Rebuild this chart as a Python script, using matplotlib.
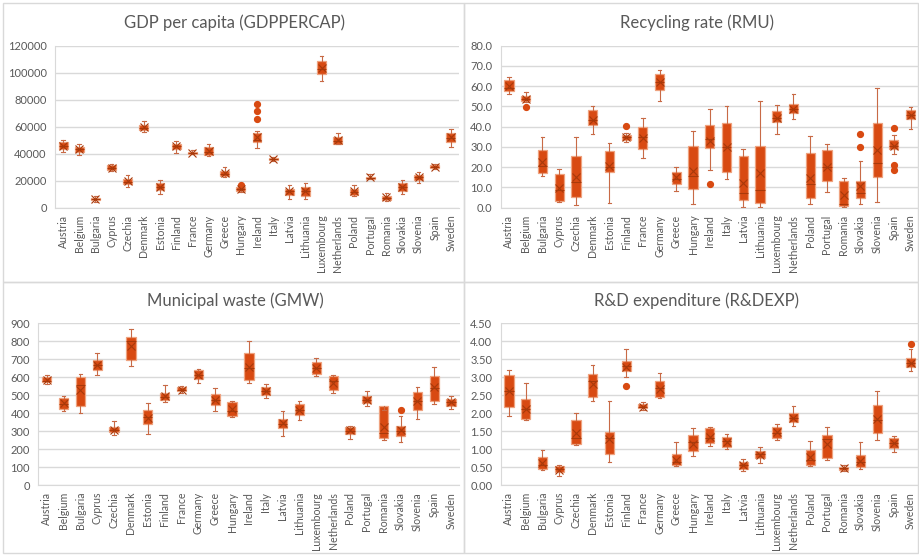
import matplotlib
matplotlib.use("Agg")
import matplotlib.pyplot as plt
from matplotlib.patches import Rectangle

plt.rcParams['font.family'] = ['Lato', 'DejaVu Sans']

countries = ["Austria", "Belgium", "Bulgaria", "Cyprus", "Czechia", "Denmark", "Estonia",
             "Finland", "France", "Germany", "Greece", "Hungary", "Ireland", "Italy", "Latvia",
             "Lithuania", "Luxembourg", "Netherlands", "Poland", "Portugal", "Romania",
             "Slovakia", "Slovenia", "Spain", "Sweden"]

# ---- GDP per capita (GDPPERCAP) ----
gdp_lo = [41500, 39000, 4500, 27000, 15000, 56000, 10000, 40500, 39500, 38500, 23000, 11500, 44000,
          34500, 6500, 6500, 93500, 47000, 8500, 21000, 5000, 10500, 18500, 28500, 45000]
gdp_q1 = [43500, 41500, 5500, 28000, 17500, 57500, 13000, 43500, 40000, 39000, 23500, 12500, 48500,
          35000, 9500, 9000, 99000, 47500, 9500, 21500, 6000, 12500, 20500, 29500, 48500]
gdp_med = [46000, 43500, 6500, 29500, 19000, 59000, 15500, 45500, 40500, 41000, 25000, 13500, 50000,
           36000, 12000, 12000, 103000, 49500, 11500, 22000, 7500, 15000, 22500, 30500, 51500]
gdp_q3 = [48500, 45000, 7500, 31500, 21000, 61000, 18000, 47500, 41500, 45000, 27500, 15000, 55000,
          37000, 14000, 15000, 108500, 52000, 13500, 23000, 9000, 18500, 24500, 31500, 55000]
gdp_hi = [50000, 47000, 8500, 32500, 24000, 64000, 20500, 49500, 43000, 47500, 30000, 15500, 56500,
          37500, 16500, 18000, 112000, 55000, 16500, 25000, 11000, 20500, 26500, 32000, 58000]
gdp_mean = [46000, 43500, 6500, 29500, 19500, 59500, 15500, 45500, 40500, 42000, 25500, 14000, 52500,
            36000, 12000, 12500, 103500, 50000, 12000, 22500, 8000, 15500, 22500, 30500, 52000]
gdp_out = {"Hungary": [16500], "Ireland": [65500, 71500, 76500]}

# ---- Recycling rate (RMU) ----
rmu_lo = [56.3, 52.0, 15.6, 2.8, 1.2, 36.2, 2.3, 32.5, 24.5, 52.5, 8.4, 1.8, 18.4, 14.3, 0.5, 0.5,
          36.2, 43.8, 2.0, 7.6, 0.5, 1.8, 2.6, 26.5, 38.8]
rmu_q1 = [57.8, 52.8, 17.1, 3.1, 5.4, 40.7, 17.4, 33.4, 29.0, 58.0, 11.5, 9.4, 29.5, 17.8, 3.8, 2.1,
          42.5, 46.9, 4.8, 13.2, 1.0, 4.9, 15.3, 28.8, 43.8]
rmu_med = [59.0, 53.5, 20.7, 8.5, 12.5, 43.5, 20.0, 35.0, 35.0, 62.0, 14.0, 15.5, 34.0, 30.0, 7.5, 8.5,
           44.5, 48.5, 11.5, 20.0, 2.0, 7.5, 22.0, 30.5, 46.0]
rmu_q3 = [63.0, 55.1, 28.6, 16.5, 25.5, 48.4, 28.1, 36.0, 40.0, 66.0, 17.8, 30.6, 40.8, 41.6, 25.3, 30.6,
          47.7, 51.0, 26.8, 28.6, 13.3, 13.3, 41.8, 33.4, 48.1]
rmu_hi = [64.5, 57.0, 34.9, 19.1, 34.9, 50.2, 31.8, 37.0, 44.4, 68.0, 20.2, 37.9, 48.7, 50.2, 29.0, 52.8,
          50.5, 56.1, 35.2, 31.4, 14.8, 23.2, 59.1, 36.0, 49.7]
rmu_mean = [60.0, 53.5, 22.4, 9.5, 15.0, 43.5, 20.5, 35.0, 34.5, 62.0, 15.0, 18.0, 33.0, 30.0, 12.0, 17.0,
            44.5, 48.5, 14.5, 20.0, 6.5, 10.5, 28.5, 30.5, 46.0]
rmu_out = {"Belgium": [49.9], "Finland": [40.5], "Ireland": [11.5], "Slovakia": [36.5, 30.0],
           "Spain": [39.5, 21.3, 18.4]}

# ---- Municipal waste (GMW) ----
gmw_lo = [561, 409, 402, 613, 276, 659, 283, 461, 511, 565, 413, 380, 565, 483, 272, 363, 607, 509, 257,
          441, 250, 241, 365, 450, 424]
gmw_q1 = [570, 424, 437, 639, 294, 696, 339, 470, 520, 589, 443, 383, 585, 502, 319, 391, 619, 528, 285,
          454, 261, 274, 417, 467, 441]
gmw_med = [580, 450, 555, 665, 305, 800, 380, 490, 528, 610, 470, 410, 650, 520, 340, 415, 650, 580, 300,
           470, 290, 300, 465, 540, 460]
gmw_q3 = [602, 483, 602, 694, 324, 824, 418, 511, 543, 641, 504, 461, 733, 546, 369, 450, 683, 604, 324,
          496, 439, 326, 517, 604, 480]
gmw_hi = [613, 494, 615, 735, 354, 867, 454, 556, 548, 644, 537, 468, 802, 559, 413, 467, 704, 609, 330,
          524, 415, 383, 546, 656, 496]
gmw_mean = [583, 455, 530, 665, 308, 770, 375, 492, 528, 610, 470, 422, 655, 520, 342, 418, 652, 568, 303,
            472, 325, 307, 468, 542, 460]
gmw_out = {"Slovakia": [415]}

# ---- R&D expenditure (R&DEXP) ----
rd_lo = [1.91, 1.80, 0.42, 0.24, 1.11, 2.34, 0.63, 3.00, 2.07, 2.42, 0.52, 0.81, 1.08, 1.01, 0.38, 0.60,
         1.25, 1.63, 0.54, 0.69, 0.38, 0.45, 1.26, 0.91, 3.16]
rd_q1 = [2.18, 1.83, 0.44, 0.35, 1.15, 2.45, 0.87, 3.18, 2.13, 2.44, 0.55, 0.94, 1.16, 1.05, 0.44, 0.75,
         1.30, 1.74, 0.55, 0.75, 0.41, 0.50, 1.44, 1.03, 3.27]
rd_med = [2.60, 2.10, 0.55, 0.44, 1.30, 2.90, 1.30, 3.30, 2.18, 2.70, 0.65, 1.20, 1.30, 1.22, 0.55, 0.85,
          1.45, 1.85, 0.70, 1.27, 0.47, 0.63, 1.80, 1.17, 3.40]
rd_q3 = [3.06, 2.40, 0.77, 0.52, 1.81, 3.08, 1.48, 3.44, 2.25, 2.89, 0.86, 1.38, 1.58, 1.34, 0.65, 0.94,
         1.62, 2.00, 0.96, 1.40, 0.51, 0.83, 2.21, 1.31, 3.53]
rd_hi = [3.19, 2.83, 0.98, 0.56, 2.00, 3.32, 2.32, 3.78, 2.30, 3.11, 1.19, 1.57, 1.62, 1.42, 0.71, 1.06,
         1.69, 2.19, 1.23, 1.60, 0.56, 1.19, 2.60, 1.37, 3.78]
rd_mean = [2.60, 2.12, 0.60, 0.43, 1.45, 2.80, 1.27, 3.28, 2.18, 2.67, 0.70, 1.15, 1.32, 1.20, 0.55, 0.84,
           1.47, 1.86, 0.77, 1.15, 0.46, 0.67, 1.83, 1.18, 3.40]
rd_out = {"Finland": [2.75], "Sweden": [3.92]}

W, H = 919, 556
fig = plt.figure(figsize=(W / 100, H / 100), dpi=100)
fig.patch.set_facecolor("white")

FILL = "#D84A12"
EDGE = "#EFA27F"
WHISK = "#C86A46"
DARK = "#A8390A"
GRID = "#D9D9D9"
TXT = "#595959"


def fig_rect(x0, y0, x1, y1):
    return [x0 / W, 1 - y1 / H, (x1 - x0) / W, (y1 - y0) / H]


# panel borders
for (x0, y0, x1, y1) in [(3, 3, 464, 282), (464, 3, 918, 282), (3, 282, 464, 553), (464, 282, 918, 553)]:
    fig.patches.append(Rectangle((x0 / W, 1 - y1 / H), (x1 - x0) / W, (y1 - y0) / H,
                                 transform=fig.transFigure, fill=False, edgecolor=GRID, linewidth=1.0))


def panel(rect, title, title_xy, lo, q1, med, q3, hi, mean, outl, ymax, ystep, fmt):
    ax = fig.add_axes(fig_rect(*rect))
    stats = []
    for i, c in enumerate(countries):
        stats.append(dict(label=c, whislo=lo[i], q1=q1[i], med=med[i], q3=q3[i], whishi=hi[i],
                          mean=mean[i], fliers=outl.get(c, [])))
    ax.bxp(stats, positions=range(len(countries)), widths=0.55, showmeans=True, patch_artist=True,
           boxprops=dict(facecolor=FILL, edgecolor=EDGE, linewidth=0.9),
           medianprops=dict(color=DARK, linewidth=0.8),
           whiskerprops=dict(color=WHISK, linewidth=0.8),
           capprops=dict(color=WHISK, linewidth=0.8),
           capwidths=0.22,
           meanprops=dict(marker="x", markeredgecolor=DARK, markersize=5.5, markeredgewidth=0.8),
           flierprops=dict(marker="o", markerfacecolor=FILL, markeredgecolor=FILL, markersize=4.2))
    ax.set_xlim(-0.5, len(countries) - 0.5)
    ax.set_ylim(0, ymax)
    ticks = [i * ystep for i in range(int(round(ymax / ystep)) + 1)]
    ax.set_yticks(ticks)
    ax.set_yticklabels([fmt.format(t) for t in ticks])
    ax.set_xticks(range(len(countries)))
    ax.set_xticklabels(countries, rotation=90)
    ax.tick_params(axis="both", length=0, labelsize=8, colors=TXT, pad=6)
    ax.tick_params(axis="x", pad=5, labelsize=7.6)
    ax.yaxis.grid(True, color=GRID, linewidth=1.0)
    ax.set_axisbelow(True)
    for s in ["top", "right"]:
        ax.spines[s].set_visible(False)
    ax.spines["left"].set_color(GRID)
    ax.spines["bottom"].set_color(GRID)
    ax.set_facecolor("none")
    fig.text(title_xy[0] / W, 1 - title_xy[1] / H, title, ha="center", va="center",
             fontsize=12, color=TXT)
    return ax


panel((55, 45.7, 459, 207.7), "GDP per capita (GDPPERCAP)", (235, 23),
      gdp_lo, gdp_q1, gdp_med, gdp_q3, gdp_hi, gdp_mean, gdp_out, 120000, 20000, "{:.0f}")
panel((500.6, 45.7, 919, 207.7), "Recycling rate (RMU)", (697, 23),
      rmu_lo, rmu_q1, rmu_med, rmu_q3, rmu_hi, rmu_mean, rmu_out, 80, 10, "{:.1f}")
panel((38.3, 323, 459.5, 485), "Municipal waste (GMW)", (235, 301),
      gmw_lo, gmw_q1, gmw_med, gmw_q3, gmw_hi, gmw_mean, gmw_out, 900, 100, "{:.0f}")
panel((500.6, 323, 919, 485), "R&D expenditure (R&DEXP)", (697, 301),
      rd_lo, rd_q1, rd_med, rd_q3, rd_hi, rd_mean, rd_out, 4.5, 0.5, "{:.2f}")

fig.savefig("out.png", dpi=100, facecolor="white")
